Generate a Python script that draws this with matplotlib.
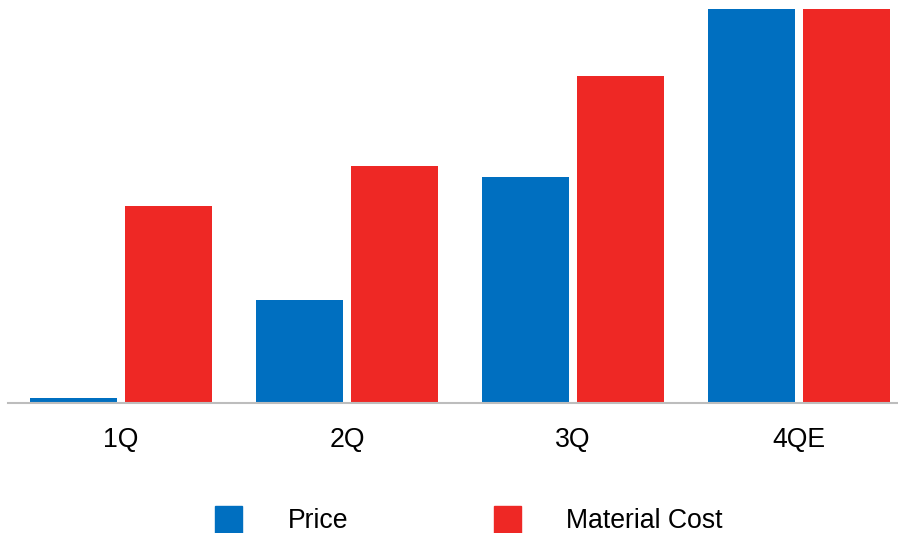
import matplotlib
matplotlib.use("Agg")
import matplotlib.pyplot as plt
from matplotlib.patches import Rectangle
import numpy as np

quarters = ["1Q", "2Q", "3Q", "4QE"]
price = [1.2, 26.1, 57.4, 100.0]
material_cost = [50.0, 60.2, 83.0, 100.0]

blue = "#006fc0"
red = "#ee2825"

plt.rcParams['font.family'] = ['Liberation Sans', 'DejaVu Sans']

fig = plt.figure(figsize=(8.98, 5.33), dpi=100)
ax = fig.add_axes([8 / 898, 130 / 533, 890 / 898, 403 / 533])

x = np.arange(len(quarters))
w = 0.385
ax.bar(x - 0.21, price, w, color=blue)
ax.bar(x + 0.21, material_cost, w, color=red)

ax.set_xlim(-0.5, 3.438)
ax.set_ylim(0, 100 * 403 / 394)
ax.set_xticks(x)
ax.set_xticklabels(quarters, fontsize=19.2)
ax.tick_params(axis='x', length=0, pad=17)
ax.set_yticks([])
for s in ['top', 'right', 'left']:
    ax.spines[s].set_visible(False)
ax.spines['bottom'].set_color('#bdbdbd')
ax.spines['bottom'].set_linewidth(1.5)

# legend drawn by hand to match the reference layout
for x0, col, txt, tx in [(215, blue, "Price", 288), (494, red, "Material Cost", 566)]:
    fig.patches.append(Rectangle((x0 / 898, 0), 27 / 898, 27 / 533,
                                 transform=fig.transFigure, color=col))
    fig.text(tx / 898, 12 / 533, txt, fontsize=19.2, va='center', ha='left')

fig.savefig("out.png", dpi=100)
